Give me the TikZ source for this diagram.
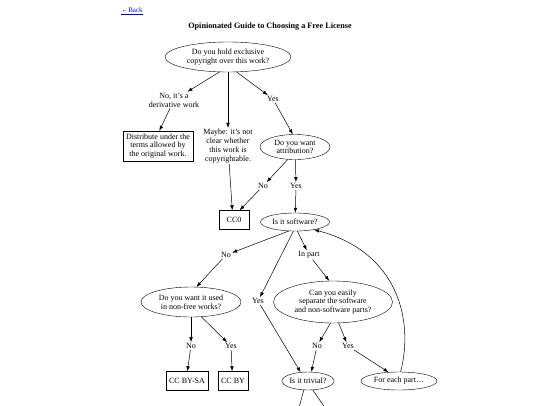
\documentclass[tikz,border=0pt]{standalone}
\usepackage{fontspec}
\setmainfont{Liberation Serif}
\usepackage{xcolor}
\usetikzlibrary{shapes.geometric}
\usetikzlibrary{arrows.meta}
\definecolor{linkblue}{HTML}{0000EE}
\tikzset{
  % A question: an ellipse of given width and height
  question/.style 2 args={
    draw=black, ellipse, align=center, inner sep=0pt,
    minimum width=#1, minimum height=#2},
  % An outcome box
  outcome/.style={
    draw=black, rectangle, align=center, inner sep=3pt, minimum height=19pt},
  % An answer written on the way between two boxes
  answer/.style={align=center, inner sep=1pt},
  % Connectors
  flow/.style={-{Latex[length=5pt,width=3.6pt]}, draw=black, line width=0.5pt},
  cut/.style={draw=black, line width=0.5pt},
}

\begin{document}
\begin{tikzpicture}[x=1pt, y=-1pt, font=\fontsize{8}{8.8}\selectfont]

  \useasboundingbox (0,0) rectangle (540,405);

  \node[text=linkblue, font=\fontsize{7}{8}\selectfont] (back) at (132,11) {\underline{←Back}};
  \node[font=\fontsize{8.2}{9}\selectfont\bfseries] (title) at (270,27)
        {Opinionated Guide to Choosing a Free License};

  % questions
  \node[question={126pt}{30pt}] (own) at (228,57) {Do you hold exclusive\\copyright over this work?};
  \node[question={70pt}{25pt}] (attr) at (295,147) {Do you want\\attribution?};
  \node[question={69pt}{18pt}] (soft) at (295,222) {Is it software?};
  \node[question={100pt}{30pt}] (nonfree) at (191,302) {Do you want it used\\in non-free works?};
  \node[question={119pt}{42pt}] (split) at (333,302) {Can you easily\\separate the software\\and non-software parts?};
  \node[question={50pt}{18pt}] (trivial) at (308,381) {Is it trivial?};
  \node[question={76pt}{18pt}] (each) at (399,381) {For each part…};

  % outcomes
  \node[outcome, minimum width=70pt, minimum height=30pt, inner sep=1pt] (distrib) at (158,146)
        {Distribute under the\\terms allowed by\\the original work.};
  \node[outcome, minimum width=30pt] (cczero) at (234,220) {CC0};
  \node[outcome] (bysa) at (187,381) {CC BY-SA};
  \node[outcome] (by) at (233,381) {CC BY};

  % answers
  \node[answer] (deriv) at (174,100) {No, it's a\\derivative work};
  \node[answer] (maybe) at (228,146) {Maybe: it's not\\clear whether\\this work is\\copyrightable.};
  \node[answer] (ownyes) at (273,99) {Yes};
  \node[answer] (attrno) at (263,186) {No};
  \node[answer] (attryes) at (296,186) {Yes};
  \node[answer] (softno) at (226,255) {No};
  \node[answer] (softyes) at (258,301) {Yes};
  \node[answer] (softpart) at (309,255) {In part};
  \node[answer] (nfno) at (191,346) {No};
  \node[answer] (nfyes) at (231,346) {Yes};
  \node[answer] (splitno) at (317,346) {No};
  \node[answer] (splityes) at (348,346) {Yes};

  \draw[flow] (own.-120) -- (deriv);
  \draw[flow] (deriv) -- (distrib.85);
  \draw[flow] (own) -- (maybe);
  \draw[flow] (maybe) -- (cczero.100);
  \draw[flow] (own.-60) -- (ownyes);
  \draw[flow] (ownyes) -- (attr.100);

  \draw[flow] (attr.-120) -- (attrno);
  \draw[flow] (attrno) -- (cczero.60);
  \draw[flow] (attr.-88) -- (attryes);
  \draw[flow] (attryes) -- (soft.88);

  \draw[flow] (soft.-125) -- (softno);
  \draw[flow] (softno) -- (nonfree.70);
  \draw[flow] (soft.-100) -- (softyes);
  \draw[flow] (softyes) -- (trivial.130);
  \draw[flow] (soft.-75) -- (softpart);
  \draw[flow] (softpart) -- (split.100);

  \draw[flow] (nonfree.-90) -- (nfno);
  \draw[flow] (nfno) -- (bysa.88);
  \draw[flow] (nonfree.-55) -- (nfyes);
  \draw[flow] (nfyes) -- (by.95);

  \draw[flow] (split.-97) -- (splitno);
  \draw[flow] (splitno) -- (trivial.70);
  \draw[flow] (split.-75) -- (splityes);
  \draw[flow] (splityes) -- (each.140);

  \draw[flow] (each.80) .. controls (414,320) and (398,252) .. (soft.-22);

  % edges leaving the page
  \coordinate (offa) at (297,415);
  \coordinate (offb) at (330,415);
  \draw[cut] (trivial.-115) -- (offa);
  \draw[cut] (trivial.-62) -- (offb);

\end{tikzpicture}
\end{document}
